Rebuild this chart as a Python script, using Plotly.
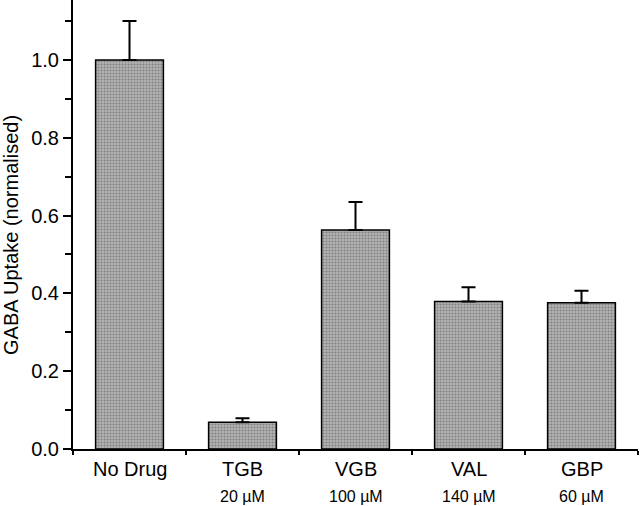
import plotly.graph_objects as go

categories = ["No Drug", "TGB", "VGB", "VAL", "GBP"]
concentrations = ["", "20 µM", "100 µM", "140 µM", "60 µM"]
uptake = [1.0, 0.069, 0.563, 0.379, 0.376]
uptake_err = [0.10, 0.010, 0.072, 0.037, 0.031]
y_ticks = [0.0, 0.2, 0.4, 0.6, 0.8, 1.0]
y_title = "GABA Uptake (normalised)"

FONT = "Liberation Sans, Arial, sans-serif"

fig = go.Figure()
fig.add_trace(go.Bar(
    x=categories, y=uptake,
    marker=dict(color="#a0a0a0", line=dict(color="black", width=1.5),
                pattern=dict(shape=".", fgcolor="#4e4e4e", bgcolor="#b4b4b4", size=3, solidity=0.4)),
    error_y=dict(type="data", array=uptake_err, arrayminus=[0]*len(uptake),
                 symmetric=False, color="black", thickness=2, width=7),
    width=0.6,
))

annotations = []
for c, conc in zip(categories, concentrations):
    annotations.append(dict(x=c, y=0, xref="x", yref="paper", yanchor="middle",
                            text=c, showarrow=False, yshift=-20,
                            font=dict(family=FONT, size=20, color="black")))
    if conc:
        annotations.append(dict(x=c, y=0, xref="x", yref="paper", yanchor="middle",
                                text=conc, showarrow=False, yshift=-47,
                                font=dict(family=FONT, size=16, color="black")))

# y-axis title (placed as annotation to match reference position)
annotations.append(dict(x=0, y=0.4766, xref="paper", yref="paper", xanchor="center",
                        yanchor="middle", xshift=-62, textangle=-90, showarrow=False,
                        text=y_title, font=dict(family=FONT, size=20, color="black")))

n = len(categories)
boundaries = [i - 0.5 for i in range(n + 1)]

fig.update_layout(
    width=640, height=506,
    margin=dict(l=73, r=2, t=0, b=57, autoexpand=False),
    plot_bgcolor="white", paper_bgcolor="white",
    showlegend=False,
    font=dict(family=FONT, size=20, color="black"),
    annotations=annotations,
    xaxis=dict(showline=True, linecolor="black", linewidth=2, mirror=False,
               showticklabels=False, tickson="boundaries", ticks="outside",
               ticklen=4, tickwidth=2, tickcolor="black", showgrid=False,
               range=[-0.5, n - 0.5], automargin=False),
    xaxis2=dict(overlaying="x", anchor="y", side="bottom", type="linear",
                range=[-0.5, n - 0.5], tickvals=boundaries, showticklabels=False,
                ticks="inside", ticklen=4, tickwidth=2, tickcolor="black",
                showline=False, showgrid=False, zeroline=False, automargin=False),
    yaxis=dict(range=[0, 1.154], showline=True, linecolor="black", linewidth=2,
               tickvals=y_ticks, ticktext=[f"{v:.1f}" for v in y_ticks],
               ticks="outside", ticklen=8, tickwidth=2, tickcolor="black",
               showgrid=False, zeroline=False, automargin=False,
               tickfont=dict(family=FONT, size=20),
               minor=dict(dtick=0.1, tick0=0, ticks="outside", ticklen=6, tickwidth=2, tickcolor="black")),
)

fig.write_html("out.html", config={"displayModeBar": False},
               post_script="document.body.style.margin='0';document.body.style.padding='0';")
